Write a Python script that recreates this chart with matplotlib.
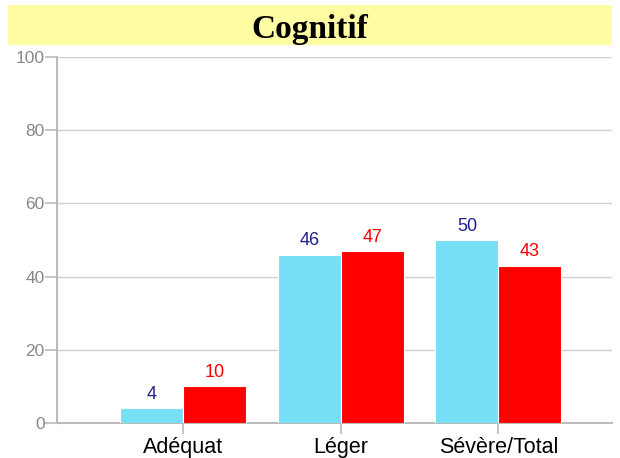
import numpy as np
import matplotlib.pyplot as plt
from matplotlib.patches import Rectangle

categories = ["Adéquat", "Léger", "Sévère/Total"]
serie_a = [4, 46, 50]
serie_b = [10, 47, 43]
y_ticks = [0, 20, 40, 60, 80, 100]

cyan = "#77dff5"
red = "#ff0000"
navy = "#1f1f8f"
grey = "#bbbbbb"

fig = plt.figure(figsize=(6.2, 4.58), dpi=100)
ax = fig.add_axes([0.092, 0.0764, 0.895, 0.7991])

# bandeau du titre
fig.patches.append(Rectangle((0.013, 0.9017), 0.974, 0.0873, transform=fig.transFigure,
                             facecolor="#fffca3", edgecolor="none"))
fig.text(0.5, 0.916, "Cognitif", ha="center", va="baseline", fontsize=24,
         fontweight="bold", family="Liberation Serif")

x = np.arange(len(categories))
w = 0.4
ba = ax.bar(x - w / 2, serie_a, w, color=cyan, edgecolor="white", linewidth=0.8, zorder=3)
bb = ax.bar(x + w / 2, serie_b, w, color=red, edgecolor="white", linewidth=0.8, zorder=3)

for r, v in zip(ba, serie_a):
    ax.text(r.get_x() + r.get_width() / 2, v + 1.5, str(v), ha="center", va="bottom",
            color=navy, fontsize=13, family="Liberation Sans")
for r, v in zip(bb, serie_b):
    ax.text(r.get_x() + r.get_width() / 2, v + 1.5, str(v), ha="center", va="bottom",
            color=red, fontsize=13, family="Liberation Sans")

ax.set_xlim(-0.8, 2.72)
ax.set_ylim(0, 100)
ax.set_yticks(y_ticks)
ax.set_yticklabels([str(t) for t in y_ticks], color="#888888", fontsize=12.5,
                   family="Liberation Sans")
ax.set_xticks(x)
ax.set_xticklabels(categories, fontsize=15.5, family="Liberation Sans")
ax.tick_params(axis="y", length=9, color=grey, width=1.2, pad=0)
ax.tick_params(axis="x", length=8, color=grey, width=1.2, pad=2)
ax.grid(axis="y", color="#d0d0d0", linewidth=1, zorder=0)
for s in ["top", "right"]:
    ax.spines[s].set_visible(False)
for s in ["left", "bottom"]:
    ax.spines[s].set_color(grey)
    ax.spines[s].set_linewidth(1.5)

fig.savefig("out.png", dpi=100)
